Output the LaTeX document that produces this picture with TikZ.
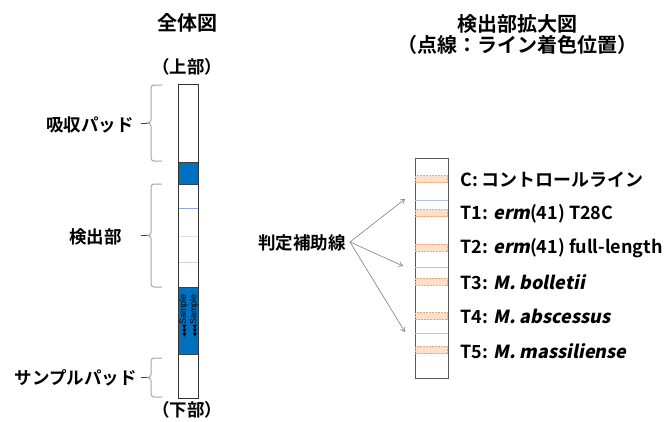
\documentclass[tikz,border=0pt]{standalone}
\usepackage{fontspec}
\setmainfont{Noto Sans CJK JP}[BoldFont={Noto Sans CJK JP Bold}]
\newfontfamily\slfont{Noto Sans CJK JP Bold}[FakeSlant=0.2]
\newfontfamily\symfont{DejaVu Sans}
\newfontfamily\arialfont{Liberation Sans}
\usetikzlibrary{arrows.meta}
\definecolor{pblue}{HTML}{0070C0}
\definecolor{bracegray}{HTML}{A6A6A6}
\definecolor{lineblue}{HTML}{B4C7E7}
\definecolor{lineA}{HTML}{8FAADC}
\definecolor{lineB}{HTML}{DAE3F3}
\definecolor{lineC}{HTML}{C9D5EC}
\definecolor{bandfill}{HTML}{FBE0CC}
\definecolor{bandedge}{HTML}{F4A46C}
\tikzset{
  titletext/.style={font=\fontsize{20}{24}\selectfont\bfseries, inner sep=0pt},
  lbltext/.style={font=\fontsize{17.5}{20}\selectfont\bfseries, inner sep=0pt},
  rlbltext/.style={font=\fontsize{18}{21}\selectfont\bfseries, inner sep=0pt, anchor=west},
  bracestyle/.style={draw=bracegray, line width=1pt},
  tickline/.style={draw=black!75, line width=0.8pt},
  band/.style={draw=bandedge, fill=bandfill, dash pattern=on 2pt off 1pt, line width=1.1pt},
  arrowline/.style={draw=black!50, line width=0.6pt, -{Straight Barb[length=4pt,width=5pt]}},
  sampletext/.style={font=\fontsize{9}{10}\selectfont\arialfont, inner sep=0pt, rotate=90}
}
\newcommand{\mybrace}[4]{% x top bottom name
  \draw[bracestyle] (#1+11,#2) -- (#1+3,#2) to[out=180,in=90] (#1,#2+3)
    -- (#1,{(#2+#3)/2-3}) to[out=-90,in=0] (#1-4,{(#2+#3)/2})
    to[out=0,in=90] (#1,{(#2+#3)/2+3}) -- (#1,#3-3) to[out=-90,in=180] (#1+3,#3) -- (#1+11,#3);
  \coordinate (#4) at (#1-4,{(#2+#3)/2});
}
\begin{document}
\begin{tikzpicture}[x=1pt,y=-1pt]
\useasboundingbox[fill=white] (0,0) rectangle (664,421);
% titles
\node[titletext] (t1) at (187,23) {全体図};
\node[titletext] (t2) at (517,24) {検出部拡大図};
\node[titletext] (t3) at (517,45) {（点線：ライン着色位置）};
\node[lbltext] (top) at (187,67) {（上部）};
\node[lbltext] (bot) at (187,410) {（下部）};
% left strip
\fill[pblue] (178,162) rectangle (198,184);
\fill[pblue] (178,287) rectangle (198,354);
\draw[lineA, line width=0.6pt] (178,208) -- (198,208);
\draw[lineB, line width=0.8pt] (178,236) -- (198,236);
\draw[lineC, line width=0.8pt] (178,262) -- (198,262);
\draw[black!75, line width=0.8pt] (178,162) -- (198,162) (178,184) -- (198,184) (178,287) -- (198,287) (178,354) -- (198,354);
\node[draw=black!80, line width=0.9pt, minimum width=20pt, minimum height=314pt, inner sep=0pt] (strip) at (188,241) {};
\node[sampletext] (s1) at (183.5,316) {{\symfont\fontsize{5.5}{6}\selectfont ◀◀◀}Sample};
\node[sampletext] (s2) at (194,316) {{\symfont\fontsize{5.5}{6}\selectfont ◀◀◀}Sample};
% braces
\mybrace{151}{85}{161}{b1}
\mybrace{151}{184}{287}{b2}
\mybrace{151}{358}{397}{b3}
\node[lbltext, anchor=east] (l1) at (134,125) {吸収パッド};
\node[lbltext, anchor=east] (l2) at (122,237) {検出部};
\node[lbltext, anchor=east] (l3) at (137,378) {サンプルパッド};
\draw[tickline] (b1) -- ++(-6,0);
\draw[tickline] (b2) -- ++(-6,0);
\draw[tickline] (b3) -- ++(-6,0);
% right strip
\node[draw=black!65, line width=0.9pt, minimum width=33pt, minimum height=220pt, inner sep=0pt] (rstrip) at (431.5,268) {};
\foreach \yy in {200,267,333} \draw[lineblue, line width=0.8pt] (415,\yy) -- (448,\yy);
\foreach \yy in {179,213.3,247.7,281.7,316,350.3}
  \path[band] (415.5,\yy-3.5) rectangle (447.5,\yy+3.5);
\node[rlbltext] (c) at (460,180) {C: コントロールライン};
\node[rlbltext] (tt1) at (460,214) {T1: {\slfont erm}(41) T28C};
\node[rlbltext] (tt2) at (460,248) {T2: {\slfont erm}(41) full-length};
\node[rlbltext] (tt3) at (460,282) {T3: {\slfont M. bolletii}};
\node[rlbltext] (tt4) at (460,316.5) {T4: {\slfont M. abscessus}};
\node[rlbltext] (tt5) at (460,351) {T5: {\slfont M. massiliense}};
% judgement lines
\node[lbltext] (j) at (302,243) {判定補助線};
\coordinate (js) at (350,242);
\coordinate (a1) at (405,199);
\coordinate (a2) at (403,266);
\coordinate (a3) at (405,332);
\draw[arrowline] (js) -- (a1);
\draw[arrowline] (js) -- (a2);
\draw[arrowline] (js) -- (a3);
\end{tikzpicture}
\end{document}
